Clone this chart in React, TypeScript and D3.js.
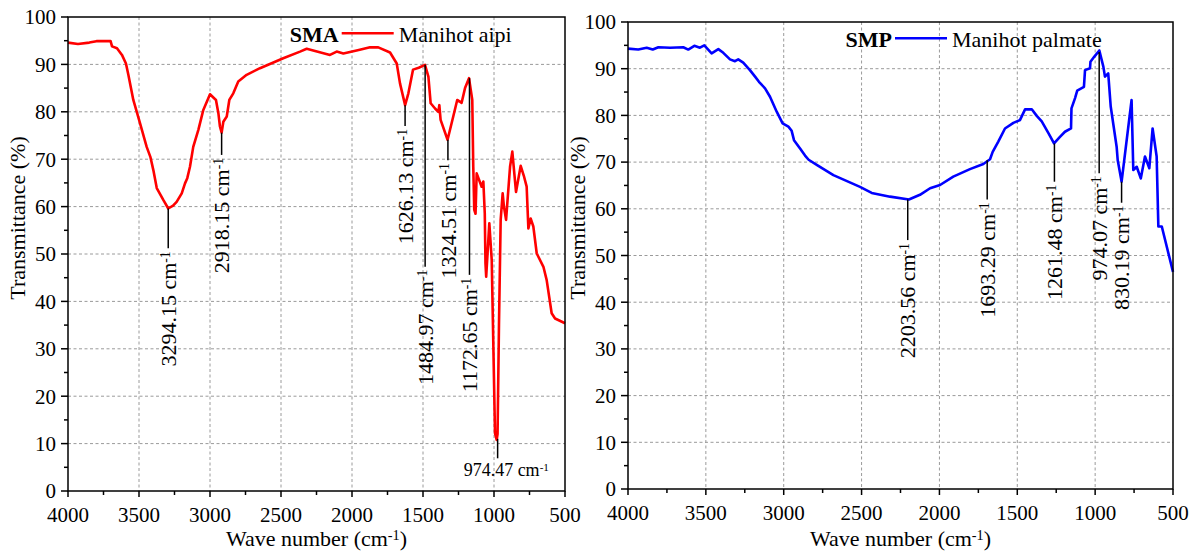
import React from 'react';
import * as d3 from 'd3';

// FTIR spectra: [wave number (cm-1), transmittance (%)]
const smaSpectrum: [number, number][] = [
  [4000, 94.6], [3930, 94.3], [3850, 94.6], [3800, 94.9], [3700, 94.9], [3690, 93.8],
  [3655, 93.4], [3620, 92.0], [3592, 90.2], [3575, 87.8], [3540, 82.5], [3493, 77.6],
  [3446, 72.6], [3420, 70.5], [3399, 67.7], [3375, 63.9], [3329, 61.4], [3294, 59.6],
  [3260, 60.2], [3235, 61.0], [3199, 62.8], [3176, 64.9], [3160, 66.0], [3141, 68.4],
  [3118, 72.6], [3082, 76.2], [3047, 80.4], [3000, 83.7], [2958, 82.5], [2941, 79.7],
  [2930, 76.9], [2918, 75.6], [2906, 77.9], [2882, 79.0], [2864, 82.5], [2836, 83.9],
  [2801, 86.4], [2742, 87.8], [2648, 89.2], [2484, 91.3], [2366, 92.7], [2319, 93.3],
  [2155, 92.0], [2108, 92.7], [2061, 92.3], [1960, 93.0], [1873, 93.6], [1815, 93.6],
  [1732, 92.5], [1685, 90.2], [1662, 86.0], [1626, 81.4], [1603, 83.9], [1570, 88.9],
  [1530, 89.3], [1486, 89.9], [1462, 87.4], [1446, 81.8], [1415, 80.7], [1392, 80.0],
  [1385, 81.4], [1376, 78.3], [1327, 74.1], [1287, 79.0], [1259, 82.5], [1228, 81.9],
  [1204, 85.0], [1176, 87.1], [1153, 82.5], [1146, 68.4], [1139, 59.3], [1130, 58.5],
  [1122, 67.0], [1087, 64.2], [1075, 65.3], [1065, 58.6], [1060, 48.0], [1055, 45.2],
  [1033, 56.5], [1016, 48.7], [993, 12.2], [981, 10.8], [975, 12.0], [965, 35.0],
  [953, 57.2], [939, 62.8], [930, 60.0], [915, 57.2], [887, 68.4], [871, 71.6],
  [845, 63.1], [812, 68.6], [790, 66.5], [770, 64.2], [758, 55.4], [742, 57.5],
  [723, 55.8], [699, 50.1], [652, 47.3], [629, 44.5], [594, 37.5], [570, 36.4], [500, 35.4],
];

const smpSpectrum: [number, number][] = [
  [4000, 94.3], [3934, 94.1], [3880, 94.5], [3841, 94.1], [3805, 94.6], [3730, 94.5],
  [3645, 94.6], [3613, 94.1], [3574, 94.9], [3538, 94.5], [3510, 95.0], [3463, 93.3],
  [3420, 94.2], [3388, 93.4], [3345, 92.0], [3313, 91.6], [3292, 92.0], [3260, 91.3],
  [3217, 89.7], [3184, 88.3], [3159, 87.2], [3120, 85.8], [3088, 84.0], [3045, 80.8],
  [3007, 78.3], [2970, 77.6], [2949, 76.7], [2934, 74.7], [2895, 72.9], [2863, 71.4],
  [2840, 70.5], [2788, 69.4], [2681, 67.2], [2510, 64.7], [2435, 63.4], [2317, 62.6],
  [2196, 62.0], [2125, 63.0], [2060, 64.4], [1996, 65.1], [1911, 66.9], [1804, 68.5],
  [1718, 69.6], [1675, 70.6], [1658, 72.2], [1622, 74.4], [1579, 77.2], [1525, 78.4],
  [1483, 79.0], [1450, 81.3], [1407, 81.3], [1375, 79.9], [1343, 78.7], [1300, 76.2],
  [1264, 74.0], [1226, 75.4], [1194, 76.5], [1155, 77.2], [1152, 81.5], [1129, 83.7],
  [1115, 85.3], [1072, 86.1], [1065, 89.7], [1033, 90.1], [1030, 91.5], [1005, 92.6],
  [973, 93.9], [947, 90.4], [937, 88.3], [916, 89.0], [900, 81.9], [862, 73.3],
  [855, 70.4], [830, 65.8], [766, 83.3], [755, 68.3], [733, 69.0], [707, 66.5],
  [680, 71.2], [652, 68.7], [631, 77.2], [605, 71.2], [594, 56.2], [572, 56.2], [500, 46.5],
];

// peak marks: wave number, transmittance at the peak, where the marker line stops
type Peak = { wn: number; top: number; bottom: number; flat?: boolean };

const smaPeaks: Peak[] = [
  { wn: 3294.15, top: 59.6, bottom: 51.2 },
  { wn: 2918.15, top: 75.6, bottom: 70.9 },
  { wn: 1626.13, top: 81.4, bottom: 77.0 },
  { wn: 1484.97, top: 89.9, bottom: 47.3 },
  { wn: 1324.51, top: 74.1, bottom: 69.8 },
  { wn: 1172.65, top: 87.1, bottom: 45.6 },
  { wn: 974.47, top: 11.0, bottom: 6.9, flat: true },
];

const smpPeaks: Peak[] = [
  { wn: 2203.56, top: 62.0, bottom: 53.3 },
  { wn: 1693.29, top: 70.4, bottom: 62.0 },
  { wn: 1261.48, top: 74.0, bottom: 65.8 },
  { wn: 974.07, top: 93.6, bottom: 67.6 },
  { wn: 830.19, top: 65.8, bottom: 61.3 },
];

const xTicks = [4000, 3500, 3000, 2500, 2000, 1500, 1000, 500];
const xMinor = [3750, 3250, 2750, 2250, 1750, 1250, 750];
const yTicks = [0, 10, 20, 30, 40, 50, 60, 70, 80, 90, 100];
const yMinor = [5, 15, 25, 35, 45, 55, 65, 75, 85, 95];

const FONT = "'Liberation Serif', 'DejaVu Serif', serif";

function CmUnit({ value }: { value: string }) {
  return (
    <>
      {value} cm<tspan dy="-0.45em" fontSize="0.62em">-1</tspan>
    </>
  );
}

type PanelProps = {
  left: number; top: number; right: number; bottom: number;
  spectrum: [number, number][];
  color: string;
  sample: string;
  species: string;
  peaks: Peak[];
  legendX: number;
  titleX: number;
};

function Panel(p: PanelProps) {
  const x = d3.scaleLinear().domain([4000, 500]).range([p.left, p.right]);
  const y = d3.scaleLinear().domain([0, 100]).range([p.bottom, p.top]);
  const line = d3.line<[number, number]>().x(d => x(d[0])).y(d => y(d[1]));
  const legendY = p.top + 16.3;

  return (
    <g style={{ fontFamily: FONT }} fill="#000">
      {xTicks.slice(1, -1).map(t => (
        <line key={'gx' + t} x1={x(t)} x2={x(t)} y1={p.top} y2={p.bottom}
          stroke="#9a9a9a" strokeWidth={1} strokeDasharray="3,2.5" />
      ))}
      {yTicks.slice(1, -1).map(t => (
        <line key={'gy' + t} x1={p.left} x2={p.right} y1={y(t)} y2={y(t)}
          stroke="#9a9a9a" strokeWidth={1} strokeDasharray="3,2.5" />
      ))}

      <path d={line(p.spectrum) || ''} fill="none" stroke={p.color} strokeWidth={2.6}
        strokeLinejoin="round" />

      <rect x={p.left} y={p.top} width={p.right - p.left} height={p.bottom - p.top}
        fill="none" stroke="#000" strokeWidth={1.5} />

      {xTicks.map(t => (
        <line key={'tx' + t} x1={x(t)} x2={x(t)} y1={p.bottom} y2={p.bottom + 6} stroke="#000" strokeWidth={1.5} />
      ))}
      {xMinor.map(t => (
        <line key={'mx' + t} x1={x(t)} x2={x(t)} y1={p.bottom} y2={p.bottom + 4} stroke="#000" strokeWidth={1.5} />
      ))}
      {yTicks.map(t => (
        <line key={'ty' + t} x1={p.left - 7} x2={p.left} y1={y(t)} y2={y(t)} stroke="#000" strokeWidth={1.5} />
      ))}
      {yMinor.map(t => (
        <line key={'my' + t} x1={p.left - 4} x2={p.left} y1={y(t)} y2={y(t)} stroke="#000" strokeWidth={1.5} />
      ))}

      {xTicks.map(t => (
        <text key={'lx' + t} x={x(t)} y={p.bottom + 31} textAnchor="middle" fontSize={21}>{t}</text>
      ))}
      {yTicks.map(t => (
        <text key={'ly' + t} x={p.left - 12} y={y(t)} dy="0.35em" textAnchor="end" fontSize={21}>{t}</text>
      ))}

      <text x={(p.left + p.right) / 2} y={546} textAnchor="middle" fontSize={22}>
        Wave number (cm<tspan dy="-0.45em" fontSize="0.65em">-1</tspan><tspan dy="0.29em">)</tspan>
      </text>
      <text transform={`translate(${p.titleX},218) rotate(-90)`} textAnchor="middle" fontSize={22}>
        Transmittance (%)
      </text>

      {p.peaks.map(pk => {
        const px = x(pk.wn);
        const yb = y(pk.bottom);
        return (
          <g key={'pk' + pk.wn}>
            <line x1={px} x2={px} y1={y(pk.top)} y2={yb} stroke="#000" strokeWidth={1.5} />
            {pk.flat ? (
              <text x={px - 34} y={yb + 18} fontSize={18}>
                <CmUnit value={pk.wn.toFixed(2)} />
              </text>
            ) : (
              <text transform={`translate(${px},${yb + 3}) rotate(-90)`} textAnchor="end" dy="0.35em" fontSize={22}>
                <CmUnit value={pk.wn.toFixed(2)} />
              </text>
            )}
          </g>
        );
      })}

      <text x={p.legendX - 3} y={legendY + 8.4} textAnchor="end" fontSize={22} fontWeight="bold">{p.sample}</text>
      <line x1={p.legendX} x2={p.legendX + 52} y1={legendY} y2={legendY} stroke={p.color} strokeWidth={2.6} />
      <text x={p.legendX + 57} y={legendY + 8.4} fontSize={22}>{p.species}</text>
    </g>
  );
}

export default function App() {
  return (
    <svg width={1198} height={559} style={{ position: 'absolute', left: 0, top: 0, background: '#fff' }}>
      <rect width={1198} height={559} fill="#fff" />
      <Panel left={68} top={17} right={565} bottom={491} spectrum={smaSpectrum} color="#ff0000"
        sample="SMA" species="Manihot aipi" peaks={smaPeaks} legendX={341.7} titleX={25} />
      <Panel left={628} top={22} right={1173} bottom={489} spectrum={smpSpectrum} color="#0000ff"
        sample="SMP" species="Manihot palmate" peaks={smpPeaks} legendX={895} titleX={585} />
    </svg>
  );
}
